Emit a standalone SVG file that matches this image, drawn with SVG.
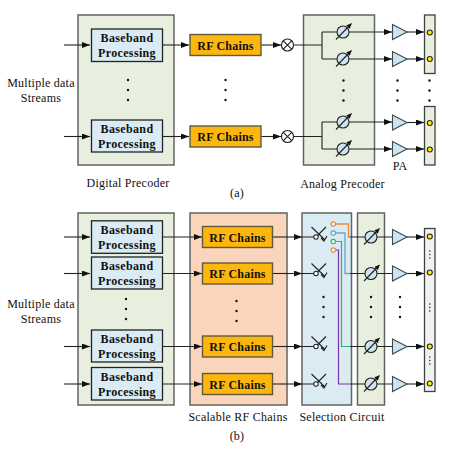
<svg xmlns="http://www.w3.org/2000/svg" width="457" height="452" viewBox="0 0 457 452">
<style>
text{font-family:"Liberation Serif","Times New Roman",serif;fill:#111}
.lbl{font-size:12px;text-anchor:middle;letter-spacing:.25px}
.bbt{font-size:12px;font-weight:bold;text-anchor:middle;letter-spacing:.35px}
.rft{font-size:12px;font-weight:bold;text-anchor:middle;letter-spacing:.2px}
.panel{stroke:#5f6660;stroke-width:1.5}
.green{fill:#e9efdf}
.peach{fill:#fbd5bb}
.blue{fill:#daebf3}
.bb{fill:#daebf3;stroke:#1c2226;stroke-width:1.3}
.rf{fill:#fdb60e;stroke:#5f5a3c;stroke-width:1.4}
.ant{fill:#e9efdf;stroke:#3d423d;stroke-width:1.3}
.ant2{fill:#f1f1f1;stroke:#3d423d;stroke-width:1.3}
.w{fill:none;stroke:#222;stroke-width:1.1}
.a{fill:none;stroke:#222;stroke-width:1.1;marker-end:url(#ah)}
.pa{fill:#cfe4ef;stroke:#3a4a52;stroke-width:1.1}
.y{fill:#ffee00;stroke:#222;stroke-width:1.1}
.d{fill:#111}
.sw{fill:none;stroke:#222;stroke-width:1.1}
</style>
<defs>
<marker id="ah" markerUnits="userSpaceOnUse" markerWidth="9" markerHeight="7" refX="8" refY="3" orient="auto"><path d="M0,0 L8,3 L0,6 Z" fill="#111"/></marker>
<marker id="ps" markerUnits="userSpaceOnUse" markerWidth="6" markerHeight="6" refX="5" refY="2.5" orient="auto"><path d="M0,0 L5,2.5 L0,5 Z" fill="#111"/></marker>
<g id="phase"><circle r="6" fill="#cfe4ef" stroke="#222" stroke-width="1.1"/><path d="M-7,7.500 L8.500,-8.500" fill="none" stroke="#222" stroke-width="1.1" marker-end="url(#ps)"/></g>
<g id="mix"><circle r="6" fill="#fff" stroke="#222" stroke-width="1.1"/><path d="M-4.200,-4.200 L4.200,4.200 M-4.200,4.200 L4.200,-4.200" stroke="#222" stroke-width="1.1"/></g>
<path id="amp" class="pa" d="M0,-7.500 L14.500,0 L0,7.500 Z"/>
<g id="switch"><path class="sw" d="M-4.500,-10 L9,3 M10,-10 L1.500,-1.500 M5,1 L8,4 L11,-1"/><circle r="2.200" fill="#fff" stroke="#222" stroke-width="1.1"/></g>
<g id="dots3"><circle cy="0" r="1.2" class="d"/><circle cy="10" r="1.2" class="d"/><circle cy="20" r="1.2" class="d"/></g>
<g id="dotss"><circle cy="0" r=".7" class="d"/><circle cy="3.500" r=".7" class="d"/><circle cy="7" r=".7" class="d"/></g>
</defs>

<g id="digital-a"><rect class="panel green" x="78" y="15" width="96" height="150"/></g>
<g id="analog-a"><rect class="panel green" x="303.500" y="15" width="71" height="150"/></g>
<g id="digital-b"><rect class="panel green" x="78" y="213" width="96" height="192"/></g>
<g id="scalable-b"><rect class="panel peach" x="190" y="213" width="97" height="192"/></g>
<g id="selection-b"><rect class="panel blue" x="302" y="213" width="49.500" height="192"/></g>
<g id="analog-b"><rect class="panel green" x="357.500" y="213" width="27" height="192"/></g>

<g id="connectors">
<path class="a" d="M64,45 H90"/><path class="a" d="M64,136.500 H90"/>
<path class="a" d="M162,45 H189"/><path class="a" d="M162,136.500 H189"/>
<path class="a" d="M261,45 H281"/><path class="a" d="M261,136.500 H281"/>
<path class="w" d="M293,45 H322 M322,32 V59 M293,136.500 H322 M322,122 V149"/>
<path class="a" d="M322,32 H392"/><path class="a" d="M322,59 H392"/><path class="a" d="M322,122 H392"/><path class="a" d="M322,149 H392"/>
<path class="a" d="M406,32 H424"/><path class="a" d="M406,59 H424"/><path class="a" d="M406,122.500 H424"/><path class="a" d="M406,149 H424"/>
<path class="a" d="M64,237 H90"/><path class="a" d="M64,273.500 H90"/><path class="a" d="M64,346.500 H90"/><path class="a" d="M64,384 H90"/>
<path class="a" d="M162,237 H202"/><path class="a" d="M162,273.500 H202"/><path class="a" d="M162,346.500 H202"/><path class="a" d="M162,384 H202"/>
<path class="a" d="M273,237 H302"/><path class="a" d="M273,273.500 H302"/><path class="a" d="M273,346.500 H302"/><path class="a" d="M273,384 H302"/>
<path class="w" d="M302,237 H316 M302,273.500 H316 M302,346.500 H316 M302,384 H316"/>
<path fill="none" stroke="#e98a3c" stroke-width="1.3" d="M335,224 H348.500 V237 H350"/>
<path fill="none" stroke="#6fa9c4" stroke-width="1.4" d="M335,233 H345 V273.500 H350"/>
<path fill="none" stroke="#2fb56e" stroke-width="1.2" d="M335,241.500 H341.500 V346.500 H350"/>
<path fill="none" stroke="#7a35a8" stroke-width="1.2" d="M335,250 H338.500 V384 H350"/>
<path class="w" d="M350,237 H392 M350,273.500 H392 M350,346.500 H392 M350,384 H392"/>
<path class="a" d="M406,237 H424"/><path class="a" d="M406,273.500 H424"/><path class="a" d="M406,346.500 H424"/><path class="a" d="M406,384 H424"/>
</g>

<g id="bb-a1"><rect class="bb" x="91.500" y="29" width="71" height="32.500"/><text class="bbt" x="127" y="42">Baseband</text><text class="bbt" x="127" y="56.500">Processing</text></g>
<g id="bb-a2"><rect class="bb" x="91.500" y="120" width="71" height="32"/><text class="bbt" x="127" y="132.500">Baseband</text><text class="bbt" x="127" y="147.500">Processing</text></g>
<g id="rf-a1"><rect class="rf" x="190" y="34.500" width="71" height="21"/><text class="rft" x="225.500" y="49.500">RF Chains</text></g>
<g id="rf-a2"><rect class="rf" x="190" y="126" width="71" height="21"/><text class="rft" x="225.500" y="141">RF Chains</text></g>
<g id="mixers-a"><use href="#mix" x="287.500" y="45"/><use href="#mix" x="287.500" y="136.500"/></g>
<g id="shifters-a"><use href="#phase" x="343" y="32"/><use href="#phase" x="343" y="59"/><use href="#phase" x="343" y="122"/><use href="#phase" x="343" y="149"/></g>
<g id="amps-a"><use href="#amp" x="392.500" y="32"/><use href="#amp" x="392.500" y="59"/><use href="#amp" x="392.500" y="122.500"/><use href="#amp" x="392.500" y="149"/></g>
<g id="ant-a1"><rect class="ant" x="424.500" y="15" width="10.500" height="58.500"/><circle class="y" cx="429.800" cy="32.500" r="2.500"/><circle class="y" cx="429.800" cy="59" r="2.500"/></g>
<g id="ant-a2"><rect class="ant" x="424.500" y="106.500" width="10.500" height="58.500"/><circle class="y" cx="429.800" cy="123" r="2.500"/><circle class="y" cx="429.800" cy="149.500" r="2.500"/></g>
<g id="dots-a"><use href="#dots3" x="128" y="80"/><use href="#dots3" x="225.500" y="80"/><use href="#dots3" x="343.500" y="80.500"/><use href="#dots3" x="397.500" y="80.500"/><use href="#dots3" x="429.500" y="80.500"/></g>

<g id="bb-b1"><rect class="bb" x="91.500" y="220.800" width="71" height="32.500"/><text class="bbt" x="127" y="234">Baseband</text><text class="bbt" x="127" y="249">Processing</text></g>
<g id="bb-b2"><rect class="bb" x="91.500" y="257" width="71" height="32"/><text class="bbt" x="127" y="270">Baseband</text><text class="bbt" x="127" y="285">Processing</text></g>
<g id="bb-b3"><rect class="bb" x="91.500" y="330" width="71" height="32"/><text class="bbt" x="127" y="343">Baseband</text><text class="bbt" x="127" y="358">Processing</text></g>
<g id="bb-b4"><rect class="bb" x="91.500" y="367.500" width="71" height="32.500"/><text class="bbt" x="127" y="380.500">Baseband</text><text class="bbt" x="127" y="395.500">Processing</text></g>
<g id="rf-b1"><rect class="rf" x="202.500" y="226.500" width="70" height="21"/><text class="rft" x="237.500" y="241.500">RF Chains</text></g>
<g id="rf-b2"><rect class="rf" x="202.500" y="263" width="70" height="21"/><text class="rft" x="237.500" y="278">RF Chains</text></g>
<g id="rf-b3"><rect class="rf" x="202.500" y="336" width="70" height="21"/><text class="rft" x="237.500" y="351">RF Chains</text></g>
<g id="rf-b4"><rect class="rf" x="202.500" y="373.500" width="70" height="21"/><text class="rft" x="237.500" y="388.500">RF Chains</text></g>
<g id="switches-b"><use href="#switch" x="316" y="237"/><use href="#switch" x="316" y="273.500"/><use href="#switch" x="316" y="346.500"/><use href="#switch" x="316" y="384"/></g>
<g id="ports-b" fill="#fff" stroke-width="1.2"><circle cx="333.300" cy="224" r="2.200" stroke="#e98a3c"/><circle cx="333.300" cy="233" r="2.200" stroke="#5fa6c4"/><circle cx="333.300" cy="241.500" r="2.200" stroke="#2fb56e"/><circle cx="333.300" cy="250" r="2.200" stroke="#e98a3c"/></g>
<g id="shifters-b"><use href="#phase" x="371" y="237"/><use href="#phase" x="371" y="273.500"/><use href="#phase" x="371" y="346.500"/><use href="#phase" x="371" y="384"/></g>
<g id="amps-b"><use href="#amp" x="392.500" y="237"/><use href="#amp" x="392.500" y="273.500"/><use href="#amp" x="392.500" y="346.500"/><use href="#amp" x="392.500" y="384"/></g>
<g id="ant-b"><rect class="ant2" x="424.500" y="228.500" width="10.500" height="163"/><circle class="y" cx="429.800" cy="236.500" r="2.500"/><circle class="y" cx="429.800" cy="272.500" r="2.500"/><circle class="y" cx="429.800" cy="346.500" r="2.500"/><circle class="y" cx="429.800" cy="383.500" r="2.500"/><use href="#dotss" x="429.800" y="251"/><use href="#dotss" x="429.800" y="304"/><use href="#dotss" x="429.800" y="357"/></g>
<g id="dots-b"><use href="#dots3" x="126" y="299"/><use href="#dots3" x="236.500" y="301"/><use href="#dots3" x="323.500" y="297"/><use href="#dots3" x="371" y="297"/><use href="#dots3" x="400" y="297"/></g>

<g id="labels">
<text class="lbl" x="41" y="87">Multiple data</text><text class="lbl" x="41" y="102">Streams</text>
<text class="lbl" x="128" y="187">Digital Precoder</text>
<text class="lbl" x="342.500" y="188">Analog Precoder</text>
<text class="lbl" x="400" y="170">PA</text>
<text class="lbl" x="237" y="197">(a)</text>
<text class="lbl" x="41" y="308">Multiple data</text><text class="lbl" x="41" y="323">Streams</text>
<text class="lbl" x="238" y="421">Scalable RF Chains</text>
<text class="lbl" x="342" y="421">Selection Circuit</text>
<text class="lbl" x="237" y="440">(b)</text>
</g>
</svg>
